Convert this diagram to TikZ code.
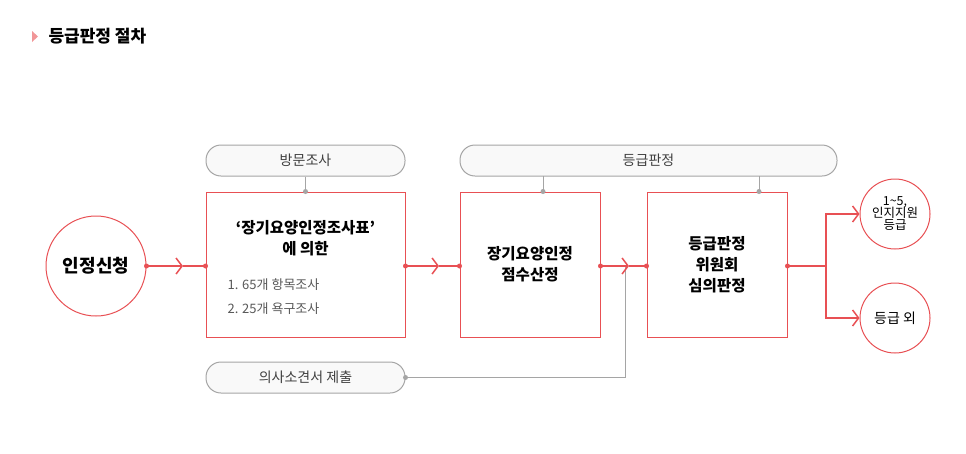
\documentclass[tikz,border=0pt]{standalone}
\usepackage{fontspec}
\setmainfont{Noto Sans CJK KR}
\usetikzlibrary{arrows.meta,calc}
\definecolor{rl}{RGB}{232,80,84}
\definecolor{gl}{RGB}{165,165,165}
\definecolor{pf}{RGB}{249,249,249}
\tikzset{
  box/.style={draw=rl,line width=1pt,fill=white,align=center,font=\fontsize{15.5}{21}\selectfont\bfseries},
  pill/.style={draw=gl,line width=1pt,fill=pf,rounded corners=15pt,font=\fontsize{14}{16}\selectfont,text=black!75},
  circ/.style={draw=rl,line width=1pt,circle,fill=white,align=center},
  rline/.style={draw=rl,line width=1.2pt},
  gline/.style={draw=gl,line width=1pt},
  chev/.style={rline,-{Straight Barb[length=6pt,width=16pt,line width=1.5pt]}},
  rdot/.style={fill=rl,circle,inner sep=0pt,minimum size=5pt},
  gdot/.style={fill=gl,circle,inner sep=0pt,minimum size=5pt}
}
\begin{document}
\begin{tikzpicture}[x=1pt,y=-1pt]
\useasboundingbox (0,0) rectangle (966,453);
% title
\fill[rl!60] (32,31) -- (38,36.5) -- (32,42) -- cycle;
\node[anchor=west,font=\fontsize{17}{20}\selectfont\bfseries] (title) at (45,36) {등급판정 절차};
% pills
\node[pill,minimum width=199pt,minimum height=31pt] (p1) at (305.5,160.5) {방문조사};
\node[pill,minimum width=377pt,minimum height=31pt] (p2) at (648.5,160.5) {등급판정};
\node[pill,minimum width=199pt,minimum height=31pt] (p3) at (305.5,377.5) {의사소견서 제출};
% boxes
\node[box,minimum width=199pt,minimum height=145pt] (b1) at (305.5,264.5) {};
\node[align=center,font=\fontsize{15.5}{21}\selectfont\bfseries] (b1t) at (305.5,238) {‘장기요양인정조사표’\\에 의한};
\node[anchor=west,font=\fontsize{13}{24}\selectfont,text=black!65,align=left] (b1l) at (224,297) {1. 65개 항목조사\\2. 25개 욕구조사};
\node[box,minimum width=140pt,minimum height=145pt] (b2) at (530,264.5) {장기요양인정\\점수산정};
\node[box,minimum width=140pt,minimum height=145pt] (b3) at (717,264.5) {등급판정\\위원회\\심의판정};
% circles
\node[circ,minimum size=100pt,font=\fontsize{18}{22}\selectfont\bfseries] (c0) at (96,266) {인정신청};
\node[circ,minimum size=70pt,font=\fontsize{12.5}{14}\selectfont,inner sep=0pt] (c1) at (895,214) {1\textasciitilde 5,\\[-2pt]인지지원\\[-2pt]등급};
\node[circ,minimum size=70pt,font=\fontsize{14}{16}\selectfont] (c2) at (895,318) {등급 외};
% gray connectors
\coordinate (q1) at (p1.south |- b1.north);
\draw[gline] (p1.south) -- (q1);
\node[gdot] at (q1) {};
\coordinate (s2a) at (543,176);
\coordinate (s2b) at (759,176);
\draw[gline] (s2a) -- (s2a |- b2.north); \node[gdot] at (s2a |- b2.north) {};
\draw[gline] (s2b) -- (s2b |- b3.north); \node[gdot] at (s2b |- b3.north) {};
\coordinate (j) at (625,266);
\draw[gline] (p3.east) -- (j |- p3.east) -- (j);
\node[gdot] at (p3.east) {};
% red arrows
\draw[chev] (c0.east) -- (183,266);
\draw[rline] (183,266) -- (b1.west |- c0.east);
\node[rdot] at (c0.east) {}; \node[rdot] at (b1.west |- c0.east) {};
\draw[chev] (b1.east |- c0.east) -- (439,266);
\draw[rline] (439,266) -- (b2.west |- c0.east);
\node[rdot] at (b1.east |- c0.east) {}; \node[rdot] at (b2.west |- c0.east) {};
\draw[chev] (b2.east |- c0.east) -- (629,266);
\draw[rline] (629,266) -- (b3.west |- c0.east);
\node[rdot] at (b2.east |- c0.east) {}; \node[rdot] at (b3.west |- c0.east) {};
\coordinate (k) at (826,266);
\draw[rline] (b3.east |- c0.east) -- (k);
\draw[chev] (k) -- (k |- c1.west) -- (c1.west);
\draw[chev] (k) -- (k |- c2.west) -- (c2.west);
\node[rdot] at (b3.east |- c0.east) {};
\end{tikzpicture}
\end{document}
